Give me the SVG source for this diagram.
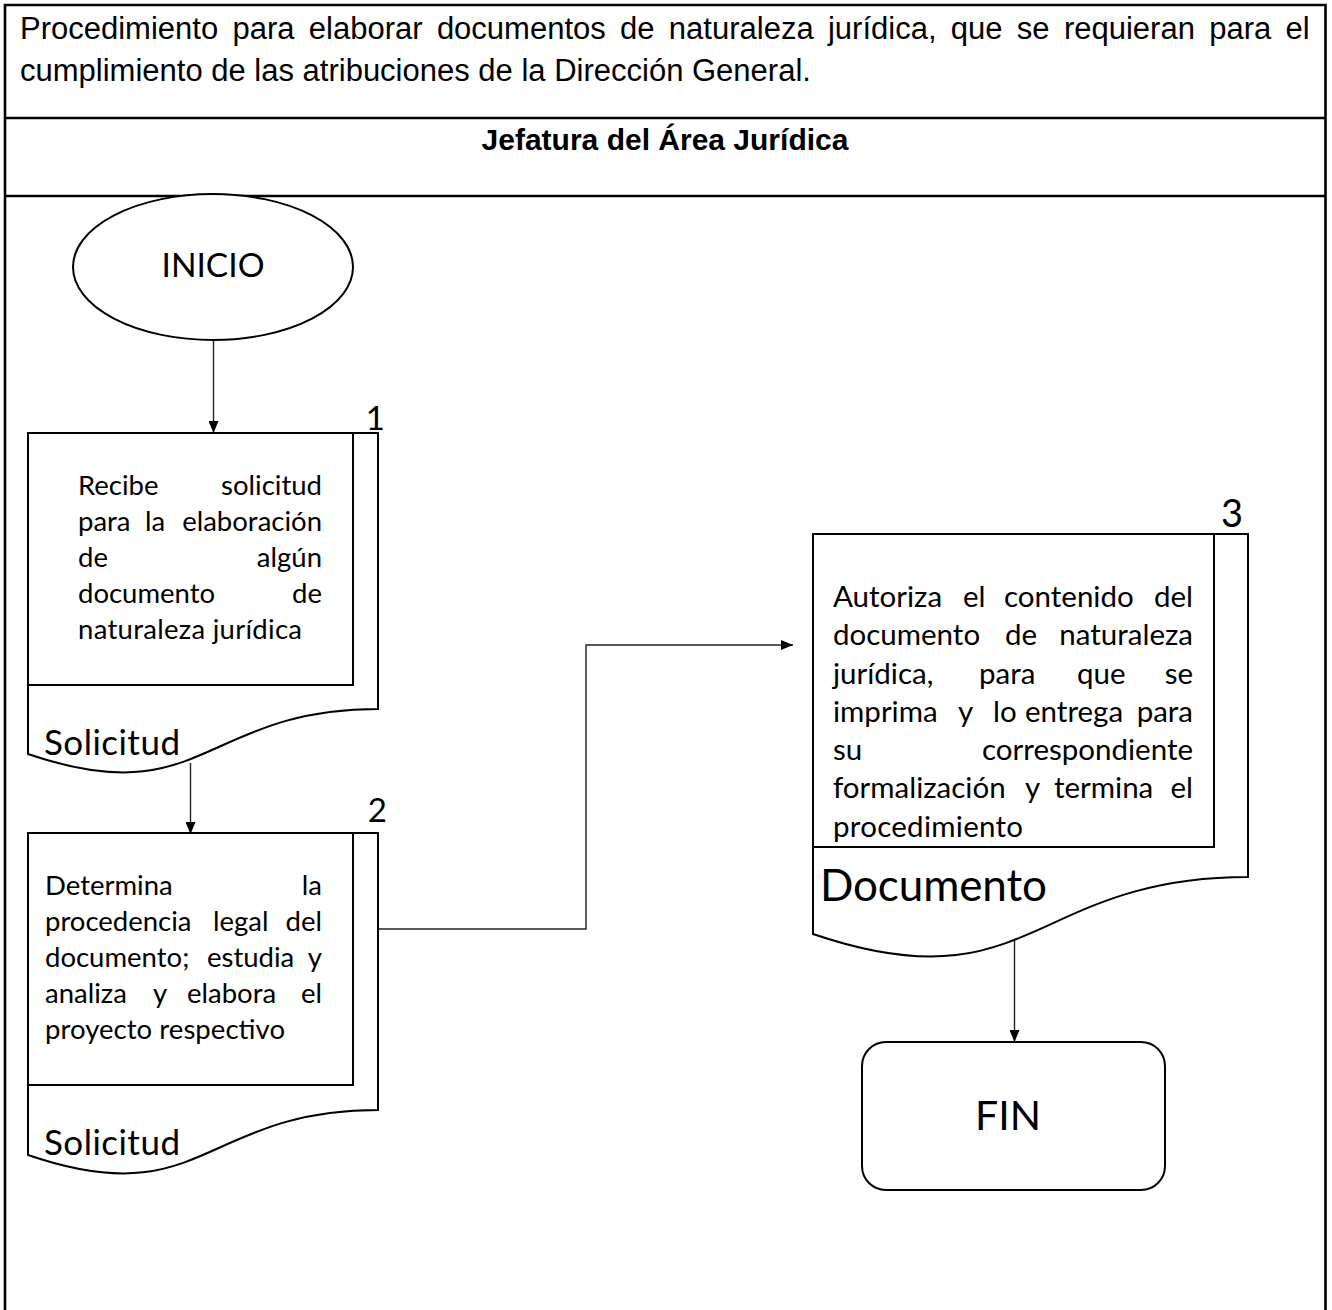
<svg xmlns="http://www.w3.org/2000/svg" width="1332" height="1310" viewBox="0 0 1332 1310">
  <style>
    .frame { fill: none; stroke: #000; stroke-width: 2.6; }
    .shape { fill: #fff; stroke: #000; stroke-width: 2; }
    .inner { fill: none; stroke: #000; stroke-width: 2; }
    .conn { fill: none; stroke: #222; stroke-width: 1.4; }
    .hdr { font-family: "Liberation Sans", Arial, sans-serif; font-size: 31px; fill: #000; }
    .hdrb { font-family: "Liberation Sans", Arial, sans-serif; font-size: 30px; font-weight: bold; fill: #000; }
    .body { font-family: Lato, "Open Sans", sans-serif; font-size: 27.5px; fill: #000; }
    .body3 { font-family: Lato, "Open Sans", sans-serif; font-size: 29.5px; fill: #000; }
    .lbl { font-family: Lato, "Open Sans", sans-serif; fill: #000; }
  </style>
  <defs>
    <marker id="arrow" viewBox="0 0 12 10" refX="12" refY="5" markerWidth="12" markerHeight="10" markerUnits="userSpaceOnUse" orient="auto">
      <path d="M0,0 L12,5 L0,10 Z" fill="#000"/>
    </marker>
  </defs>

  <rect width="1332" height="1310" fill="#fff"/>

  <!-- table frame -->
  <g id="table">
    <path class="frame" d="M5,1310 V5 H1325.5 V1310"/>
    <line class="frame" x1="5" y1="118" x2="1325.5" y2="118"/>
    <line class="frame" x1="5" y1="196" x2="1325.5" y2="196"/>
    <text class="hdr" x="20" y="39" word-spacing="5.7">Procedimiento para elaborar documentos de naturaleza jurídica, que se requieran para el</text>
    <text class="hdr" x="20" y="81">cumplimiento de las atribuciones de la Dirección General.</text>
    <text class="hdrb" x="665" y="150" text-anchor="middle">Jefatura del Área Jurídica</text>
  </g>

  <!-- connectors -->
  <g id="connectors">
    <line class="conn" x1="213.5" y1="340" x2="213.5" y2="433" marker-end="url(#arrow)"/>
    <line class="conn" x1="190.5" y1="763" x2="190.5" y2="834" marker-end="url(#arrow)"/>
    <path class="conn" d="M378,929 H586 V645 H793" stroke="#000" marker-end="url(#arrow)"/>
    <line class="conn" x1="1014.5" y1="939" x2="1014.5" y2="1042" marker-end="url(#arrow)"/>
  </g>

  <!-- start terminator -->
  <g id="inicio">
    <ellipse class="shape" cx="213" cy="267" rx="140" ry="73"/>
    <text class="lbl" x="213" y="277" font-size="33.5" text-anchor="middle">INICIO</text>
  </g>

  <!-- step 1 -->
  <g id="step1">
    <path class="shape" d="M28,433 H378 V709 C203,709 203,814 28,754 Z"/>
    <rect class="inner" x="28" y="433" width="325" height="252"/>
    <text class="lbl" x="385" y="430" font-size="33" text-anchor="end">1</text>
    <g class="body">
      <text x="78" y="495">Recibe</text>
      <text x="322" y="495" text-anchor="end">solicitud</text>
      <text x="78" y="531">para</text>
      <text x="145" y="531">la</text>
      <text x="322" y="531" text-anchor="end">elaboración</text>
      <text x="78" y="567">de</text>
      <text x="322" y="567" text-anchor="end">algún</text>
      <text x="78" y="603">documento</text>
      <text x="322" y="603" text-anchor="end">de</text>
      <text x="78" y="639" textLength="224">naturaleza jurídica</text>
    </g>
    <text class="lbl" x="44" y="755" font-size="35" textLength="136">Solicitud</text>
  </g>

  <!-- step 2 -->
  <g id="step2">
    <path class="shape" d="M28,833 H378 V1110 C203,1110 203,1215 28,1155 Z"/>
    <rect class="inner" x="28" y="833" width="325" height="252"/>
    <text class="lbl" x="387" y="822" font-size="33" text-anchor="end">2</text>
    <g class="body">
      <text x="45" y="895">Determina</text>
      <text x="322" y="895" text-anchor="end">la</text>
      <text x="45" y="931">procedencia</text>
      <text x="213" y="931">legal</text>
      <text x="322" y="931" text-anchor="end">del</text>
      <text x="45" y="967">documento;</text>
      <text x="207" y="967">estudia</text>
      <text x="322" y="967" text-anchor="end">y</text>
      <text x="45" y="1003">analiza</text>
      <text x="153" y="1003">y</text>
      <text x="187" y="1003">elabora</text>
      <text x="322" y="1003" text-anchor="end">el</text>
      <text x="45" y="1039" textLength="240">proyecto respectivo</text>
    </g>
    <text class="lbl" x="44" y="1155" font-size="35" textLength="136">Solicitud</text>
  </g>

  <!-- step 3 -->
  <g id="step3">
    <path class="shape" d="M813,534 H1248 V877 C1030.5,877 1030.5,1008 813,934 Z"/>
    <rect class="inner" x="813" y="534" width="401" height="313"/>
    <text class="lbl" x="1243" y="527" font-size="38" text-anchor="end">3</text>
    <g class="body3">
      <text x="833" y="607">Autoriza</text>
      <text x="963" y="607">el</text>
      <text x="1004" y="607">contenido</text>
      <text x="1193" y="607" text-anchor="end">del</text>
      <text x="833" y="645">documento</text>
      <text x="1005" y="645">de</text>
      <text x="1193" y="645" text-anchor="end">naturaleza</text>
      <text x="833" y="684">jurídica,</text>
      <text x="979" y="684">para</text>
      <text x="1077" y="684">que</text>
      <text x="1193" y="684" text-anchor="end">se</text>
      <text x="833" y="722">imprima</text>
      <text x="958" y="722">y</text>
      <text x="993" y="722">lo</text>
      <text x="1025" y="722">entrega</text>
      <text x="1193" y="722" text-anchor="end">para</text>
      <text x="833" y="760">su</text>
      <text x="1193" y="760" text-anchor="end">correspondiente</text>
      <text x="833" y="798">formalización</text>
      <text x="1025" y="798">y</text>
      <text x="1054" y="798">termina</text>
      <text x="1193" y="798" text-anchor="end">el</text>
      <text x="833" y="837" textLength="190">procedimiento</text>
    </g>
    <text class="lbl" x="820" y="901" font-size="44" textLength="227">Documento</text>
  </g>

  <!-- end terminator -->
  <g id="fin">
    <rect class="shape" x="862" y="1042" width="303" height="148" rx="24" ry="24"/>
    <text class="lbl" x="1008" y="1130" font-size="41" text-anchor="middle">FIN</text>
  </g>
</svg>
